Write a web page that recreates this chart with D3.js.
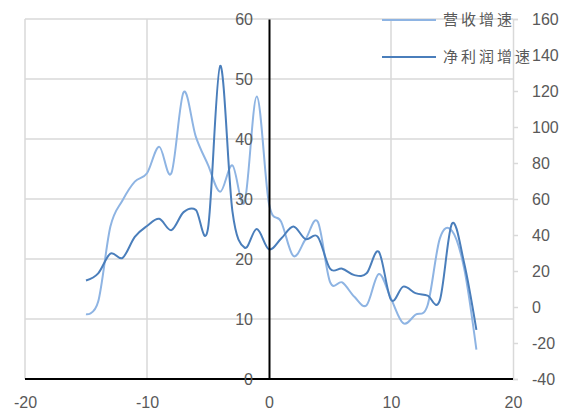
<!DOCTYPE html>
<html>
<head>
<meta charset="utf-8">
<script src="https://cdn.jsdelivr.net/npm/d3@7"></script>
<style>
  html, body { margin: 0; padding: 0; background: #fff; }
  svg { display: block; }
  .tick-label { font-family: "Liberation Sans", Arial, sans-serif; font-size: 16px; fill: #595959; }
  .legend-label { font-family: "Noto Sans CJK SC", sans-serif; font-size: 15px; fill: #595959; letter-spacing: 3px; }
</style>
</head>
<body>
<svg id="chart" width="576" height="420"></svg>
<script>
// ---- data ----
const xValues = [-15,-14,-13,-12,-11,-10,-9,-8,-7,-6,-5,-4,-3,-2,-1,0,1,2,3,4,5,6,7,8,9,10,11,12,13,14,15,16,17];
// 营收增速 (left axis, 0-60)
const revenueGrowth = [10.8,12.9,25.4,29.8,32.9,34.3,38.7,34.3,47.8,40.4,35.7,31.2,35.6,29.5,47.1,29.2,26.2,20.5,23.3,26.2,16.2,16.1,13.7,12.3,17.5,13.4,9.3,10.7,12.3,23.4,24.7,18.4,4.9];
// 净利润增速 (right axis, -40-160)
const profitGrowth = [14.7,18.7,29.7,27.3,39,45,49,42.7,52.7,54,43.7,134,53.3,33,43.3,32,38,44.7,37.7,39,21.3,21.3,17.7,18.7,30.7,4,11.3,7.7,6.3,3.7,46.3,24.3,-12.7];
const seriesNames = ["营收增速", "净利润增速"];
const xTicks = [-20,-10,0,10,20];
const leftTicks = [0,10,20,30,40,50,60];
const rightTicks = [-40,-20,0,20,40,60,80,100,120,140,160];

// ---- layout ----
const svg = d3.select("#chart");
const x = d3.scaleLinear().domain([-20, 20]).range([25, 513]);
const yL = d3.scaleLinear().domain([0, 60]).range([379, 19]);
const yR = d3.scaleLinear().domain([-40, 160]).range([379, 19]);
const grid = "#d9d9d9";
const fmt = d => String(d);

// horizontal gridlines
svg.append("g").selectAll("line").data(leftTicks.filter(d => d > 0)).join("line")
  .attr("x1", x(-20)).attr("x2", x(20))
  .attr("y1", d => yL(d)).attr("y2", d => yL(d))
  .attr("stroke", grid).attr("stroke-width", 1.5);
// vertical gridlines
svg.append("g").selectAll("line").data(xTicks.filter(d => d !== 0 && d !== 20)).join("line")
  .attr("x1", d => x(d)).attr("x2", d => x(d))
  .attr("y1", yL(60)).attr("y2", yL(0))
  .attr("stroke", grid).attr("stroke-width", 1.5);

// right axis
const rightAxis = d3.axisRight(yR).tickValues(rightTicks).tickSize(5).tickPadding(14).tickFormat(fmt);
const gR = svg.append("g").attr("transform", `translate(${x(20)},0)`).call(rightAxis);
gR.select(".domain").attr("stroke", grid).attr("stroke-width", 1.5);
gR.selectAll(".tick line").attr("stroke", grid).attr("stroke-width", 1.5);
gR.selectAll(".tick text").attr("class", "tick-label").attr("fill", null);

// series lines
const lineL = d3.line().x((d, i) => x(xValues[i])).y(d => yL(d)).curve(d3.curveCatmullRom.alpha(0));
const lineR = d3.line().x((d, i) => x(xValues[i])).y(d => yR(d)).curve(d3.curveCatmullRom.alpha(0));
const colors = ["#8eb4e3", "#4a7ebb"];
svg.append("path").datum(revenueGrowth).attr("d", lineL)
  .attr("fill", "none").attr("stroke", colors[0]).attr("stroke-width", 2);
svg.append("path").datum(profitGrowth).attr("d", lineR)
  .attr("fill", "none").attr("stroke", colors[1]).attr("stroke-width", 2);

// bottom axis (black) at y=0
svg.append("line").attr("x1", x(-20)).attr("x2", x(20)).attr("y1", yL(0)).attr("y2", yL(0))
  .attr("stroke", "#000").attr("stroke-width", 2);
// left axis (black) at x=0
const leftAxis = d3.axisLeft(yL).tickValues(leftTicks).tickSize(0).tickPadding(16).tickFormat(fmt);
const gL = svg.append("g").attr("transform", `translate(${x(0)},0)`).call(leftAxis);
gL.select(".domain").attr("stroke", "#000").attr("stroke-width", 2);
gL.selectAll(".tick text").attr("class", "tick-label").attr("fill", null);

// x tick labels along bottom
const xAxis = d3.axisBottom(x).tickValues(xTicks).tickSize(0).tickPadding(18).tickFormat(fmt);
const gX = svg.append("g").attr("transform", `translate(0,${yL(0)})`).call(xAxis);
gX.select(".domain").remove();
gX.selectAll(".tick text").attr("class", "tick-label").attr("fill", null);

// legend
const legendY = [20, 57];
seriesNames.forEach((name, i) => {
  svg.append("line").attr("x1", 382).attr("x2", 436)
    .attr("y1", legendY[i]).attr("y2", legendY[i])
    .attr("stroke", colors[i]).attr("stroke-width", 2);
  svg.append("text").attr("class", "legend-label")
    .attr("x", 443).attr("y", legendY[i]).attr("dy", "0.35em").text(name);
});
</script>
</body>
</html>
